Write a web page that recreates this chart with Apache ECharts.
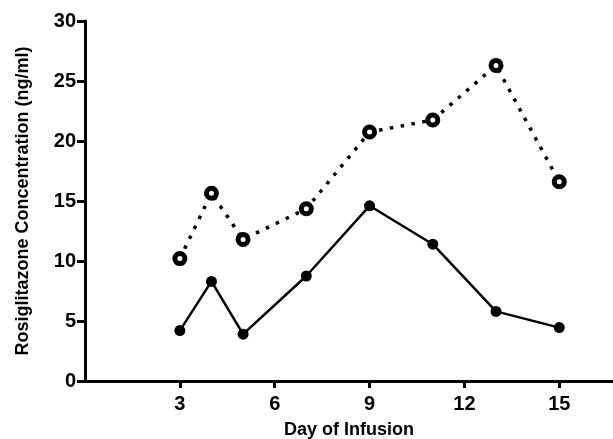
<!DOCTYPE html>
<html>
<head>
<meta charset="utf-8">
<script src="https://cdn.jsdelivr.net/npm/echarts@6/dist/echarts.min.js"></script>
<style>
  html, body { margin: 0; padding: 0; background: #fff; }
  #main { width: 613px; height: 439px; }
</style>
</head>
<body>
<div id="main"></div>
<script>
// data
const days = [3, 4, 5, 7, 9, 11, 13, 15];
const solidValues = [4.2, 8.3, 3.9, 8.75, 14.6, 11.4, 5.8, 4.45];
const dottedValues = [10.2, 15.65, 11.8, 14.35, 20.75, 21.75, 26.3, 16.6];
const xTicks = [3, 6, 9, 12, 15];

const pairs = (xs, ys) => xs.map((x, i) => [x, ys[i]]);
const font = 'Liberation Sans, Arial, sans-serif';

let myChart = echarts.init(document.getElementById('main'));
myChart.setOption({
  animation: false,
  grid: {
    left: 85,
    top: 21,
    right: 0,
    bottom: 58,
    outerBoundsMode: 'none'
  },
  xAxis: {
    type: 'value',
    min: 0,
    max: 16.7,
    interval: 3,
    name: 'Day of Infusion',
    nameLocation: 'middle',
    nameGap: 40,
    nameTextStyle: { fontFamily: font, fontWeight: 'bold', fontSize: 18, color: '#000' },
    axisLine: { lineStyle: { color: '#000', width: 3 } },
    axisTick: { customValues: xTicks, length: 7, lineStyle: { color: '#000', width: 3 } },
    axisLabel: { customValues: xTicks, margin: 13, fontFamily: font, fontWeight: 'bold', fontSize: 20, color: '#000' },
    splitLine: { show: false }
  },
  yAxis: {
    type: 'value',
    min: 0,
    max: 30,
    interval: 5,
    name: 'Rosiglitazone Concentration (ng/ml)',
    nameLocation: 'middle',
    nameGap: 53,
    nameTextStyle: { fontFamily: font, fontWeight: 'bold', fontSize: 18, color: '#000' },
    axisLine: { show: true, lineStyle: { color: '#000', width: 3 } },
    axisTick: { show: true, length: 8, lineStyle: { color: '#000', width: 3 } },
    axisLabel: { margin: 9, fontFamily: font, fontWeight: 'bold', fontSize: 20, color: '#000' },
    splitLine: { show: false }
  },
  series: [
    {
      name: 'dotted',
      type: 'line',
      data: pairs(days, dottedValues),
      symbol: 'circle',
      symbolSize: 10,
      itemStyle: { color: '#fff', borderColor: '#000', borderWidth: 5 },
      lineStyle: { color: '#000', width: 3.5, type: [3.5, 7.5], cap: 'butt' },
      z: 3
    },
    {
      name: 'solid',
      type: 'line',
      data: pairs(days, solidValues),
      symbol: 'circle',
      symbolSize: 11,
      itemStyle: { color: '#000', borderWidth: 0 },
      lineStyle: { color: '#000', width: 2.5 },
      z: 2
    }
  ]
});
</script>
</body>
</html>
